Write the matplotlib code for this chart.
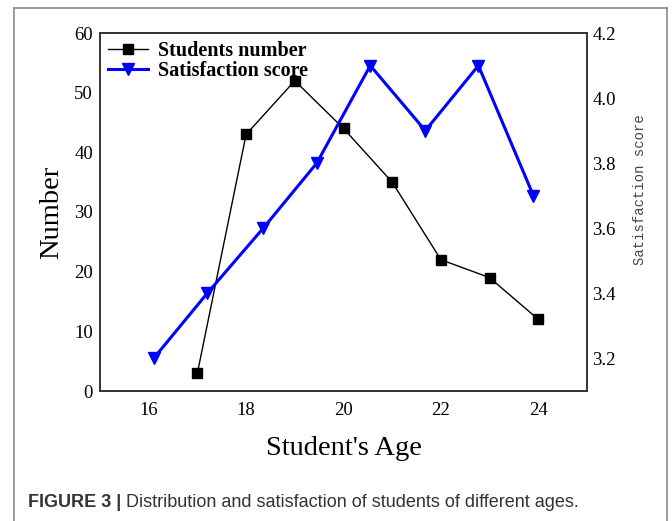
import matplotlib
matplotlib.use("Agg")
import matplotlib.pyplot as plt
from matplotlib.lines import Line2D

# Data
age_number = [17, 18, 19, 20, 21, 22, 23, 24]
students_number = [3, 43, 52, 44, 35, 22, 19, 12]
age_score = [16.1, 17.2, 18.35, 19.45, 20.55, 21.68, 22.77, 23.9]
satisfaction = [3.2, 3.4, 3.6, 3.8, 4.1, 3.9, 4.1, 3.7]

x_ticks = [16, 18, 20, 22, 24]
left_ticks = [0, 10, 20, 30, 40, 50, 60]
right_ticks = [3.2, 3.4, 3.6, 3.8, 4.0, 4.2]

serif = "Liberation Serif"

fig = plt.figure(figsize=(6.72, 5.21), dpi=100)
ax = fig.add_axes([100 / 672, 1 - 391 / 521, 487 / 672, 358 / 521])
ax2 = ax.twinx()

l1, = ax.plot(age_number, students_number, color="black", lw=1.0,
              marker="s", markersize=7, label="Students number")
l2, = ax2.plot(age_score, satisfaction, color="#0000ff", lw=2.2,
               marker="v", markersize=8, label="Satisfaction score")

ax.set_xlim(15, 25)
ax.set_ylim(0, 60)
ax2.set_ylim(3.1, 4.2)
ax.set_xticks(x_ticks)
ax.set_yticks(left_ticks)
ax2.set_yticks(right_ticks)
ax2.set_yticklabels([f"{v:.1f}" for v in right_ticks])

for a in (ax, ax2):
    a.tick_params(length=0, labelsize=13.5)
    for lab in a.get_xticklabels() + a.get_yticklabels():
        lab.set_fontfamily(serif)
    for sp in a.spines.values():
        sp.set_color("#333333")
        sp.set_linewidth(1.2)
ax.tick_params(axis="x", pad=8)
ax.tick_params(axis="y", pad=5)
ax2.tick_params(axis="y", pad=4)

ax.set_xlabel("Student's Age", fontfamily=serif, fontsize=20.5, labelpad=12)
ax.set_ylabel("Number", fontfamily=serif, fontsize=20.5, va="center")
ax.yaxis.set_label_coords(-48 / 487, 0.5)
ax2.set_ylabel("Satisfaction score", fontfamily="Liberation Mono",
               fontsize=10, color="#444444", va="center")
ax2.yaxis.set_label_coords(1 + 53 / 487, (391 - 190) / 358)

leg = ax.legend(handles=[l1, l2], loc="upper left", frameon=False,
                prop={"family": serif, "weight": "bold", "size": 14.5},
                handlelength=2.0, borderaxespad=0.15, labelspacing=0.0,
                handletextpad=0.5, borderpad=0.25)

# outer border of the figure panel
border = dict(color="#8a8a8a", lw=1.2, transform=fig.transFigure)
fig.add_artist(Line2D([14 / 672, 14 / 672], [0, 1 - 8 / 521], **border))
fig.add_artist(Line2D([667 / 672, 667 / 672], [0, 1 - 8 / 521], **border))
fig.add_artist(Line2D([14 / 672, 667 / 672], [1 - 8 / 521, 1 - 8 / 521], **border))

# caption
cap_y = 1 - 507 / 521
t1 = fig.text(28 / 672, cap_y, "FIGURE 3 |", fontfamily="Liberation Sans",
              fontweight="bold", fontsize=13, color="#333333", va="baseline")
fig.canvas.draw()
bb = t1.get_window_extent()
fig.text((bb.x1 + 5) / 672, cap_y,
         "Distribution and satisfaction of students of different ages.",
         fontfamily="Liberation Sans", fontsize=13, color="#333333",
         va="baseline")

fig.savefig("out.png", dpi=100)
